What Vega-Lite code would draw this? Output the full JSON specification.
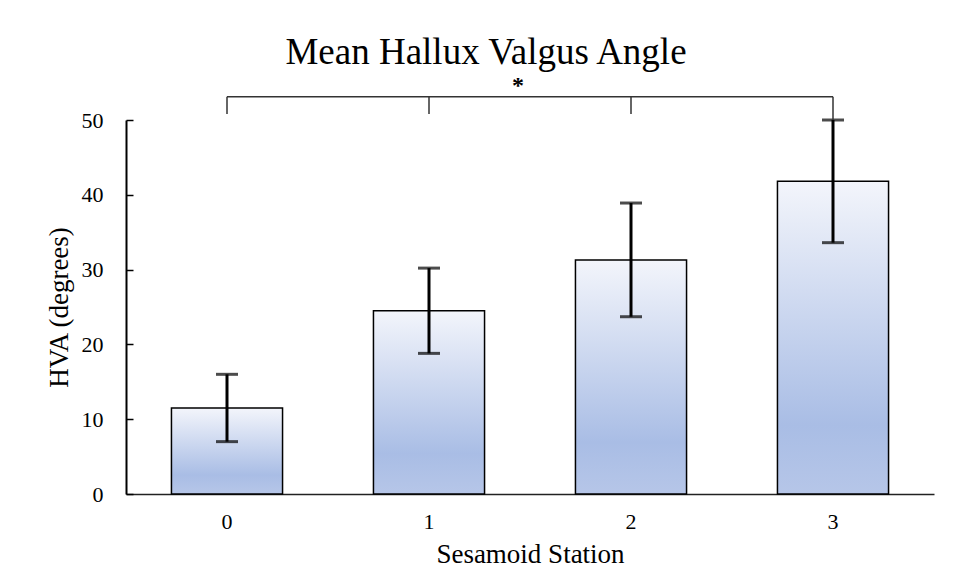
{
  "$schema": "https://vega.github.io/schema/vega-lite/v6.json",
  "autosize": "none",
  "width": 808,
  "height": 374,
  "padding": {"left": 126, "top": 120, "right": 20, "bottom": 90},
  "background": "white",
  "config": {"view": {"stroke": null}, "font": "Liberation Serif"},
  "title": {"text": "Mean Hallux Valgus Angle", "font": "Liberation Serif", "fontSize": 37, "fontWeight": "normal", "color": "black", "frame": "group", "anchor": "middle", "offset": 2, "dx": -44},
  "datasets": {
    "bars": [
      {"station": "0", "mean": 11.5, "lo": 7.0, "hi": 16.0},
      {"station": "1", "mean": 24.5, "lo": 18.8, "hi": 30.2},
      {"station": "2", "mean": 31.3, "lo": 23.7, "hi": 38.9},
      {"station": "3", "mean": 41.8, "lo": 33.6, "hi": 50.0}
    ],
    "bracket": [
      {"station": "0", "low": 50.8, "top": 53.1},
      {"station": "1", "low": 50.8, "top": 53.1},
      {"station": "2", "low": 50.8, "top": 53.1},
      {"station": "3", "low": 50.0, "top": 53.1}
    ],
    "span": [{"from": "0", "to": "3", "top": 53.1}],
    "star": [{"station": "1", "y": 54.6, "label": "*"}]
  },
  "encoding": {
    "x": {"field": "station", "type": "nominal", "sort": ["0", "1", "2", "3"],
      "scale": {"domain": ["0", "1", "2", "3"], "paddingInner": 0.45, "paddingOuter": 0.225},
      "axis": {"title": "Sesamoid Station", "labelAngle": 0, "ticks": false, "domainColor": "#222", "domainWidth": 1.5,
        "labelFont": "Liberation Serif", "labelFontSize": 22, "labelColor": "black", "labelPadding": 17,
        "titleFont": "Liberation Serif", "titleFontSize": 27, "titleFontWeight": "normal", "titleColor": "black", "titlePadding": 9}}
  },
  "layer": [
    {
      "data": {"name": "bars"},
      "mark": {"type": "bar", "stroke": "black", "strokeWidth": 1.5,
        "color": {"gradient": "linear", "x1": 0, "y1": 0, "x2": 0, "y2": 1,
          "stops": [{"offset": 0, "color": "#f3f5fb"}, {"offset": 0.78, "color": "#a9bde5"}, {"offset": 1, "color": "#b6c6e8"}]}},
      "encoding": {
        "y": {"field": "mean", "type": "quantitative",
          "scale": {"domain": [0, 50], "nice": false},
          "axis": {"title": "HVA (degrees)", "values": [0, 10, 20, 30, 40, 50], "grid": false,
            "tickSize": -7, "tickColor": "black", "tickWidth": 1.5, "domainColor": "black", "domainWidth": 2,
            "labelFont": "Liberation Serif", "labelFontSize": 22, "labelColor": "black", "labelPadding": 30,
            "titleFont": "Liberation Serif", "titleFontSize": 27, "titleFontWeight": "normal", "titleColor": "black", "titlePadding": 8}}
      }
    },
    {
      "data": {"name": "bars"},
      "mark": {"type": "rule", "color": "black", "strokeWidth": 3},
      "encoding": {"y": {"field": "lo", "type": "quantitative"}, "y2": {"field": "hi"}}
    },
    {
      "data": {"name": "bars"},
      "mark": {"type": "tick", "color": "black", "thickness": 3, "size": 22, "orient": "horizontal"},
      "encoding": {"y": {"field": "lo", "type": "quantitative"}}
    },
    {
      "data": {"name": "bars"},
      "mark": {"type": "tick", "color": "black", "thickness": 3, "size": 22, "orient": "horizontal"},
      "encoding": {"y": {"field": "hi", "type": "quantitative"}}
    },
    {
      "data": {"name": "bracket"},
      "mark": {"type": "rule", "color": "#333", "strokeWidth": 1.5},
      "encoding": {"y": {"field": "low", "type": "quantitative"}, "y2": {"field": "top"}}
    },
    {
      "data": {"name": "span"},
      "mark": {"type": "rule", "color": "#333", "strokeWidth": 1.5},
      "encoding": {"x": {"field": "from", "type": "nominal"}, "x2": {"field": "to"}, "y": {"field": "top", "type": "quantitative"}}
    },
    {
      "data": {"name": "star"},
      "mark": {"type": "text", "fontSize": 24, "fontWeight": "bold", "font": "Liberation Serif", "color": "black", "baseline": "middle", "dx": 89},
      "encoding": {"y": {"field": "y", "type": "quantitative"}, "text": {"field": "label"}}
    }
  ]
}
